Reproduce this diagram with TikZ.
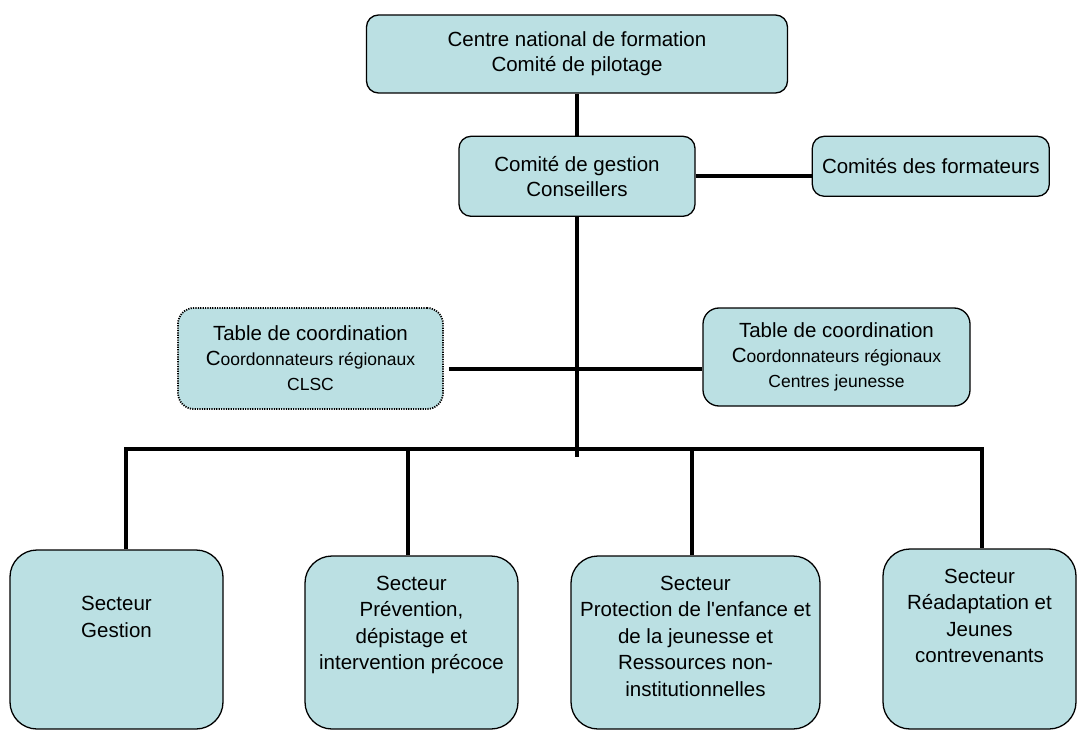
\documentclass[tikz,border=0pt]{standalone}
\usepackage{fontspec}
\setmainfont{Liberation Sans}
\usepackage{xcolor}
\usetikzlibrary{positioning}

\definecolor{boxfill}{RGB}{187,224,227}
\newcommand{\secttext}[3]{\parbox[c][#2][t]{#1}{\centering\rule{0pt}{34pt}#3}}
\newcommand{\tsub}{\fontsize{17.5}{25}\selectfont}
\newcommand{\tbig}{\fontsize{20.5}{25}\selectfont}

\begin{document}
\begin{tikzpicture}[x = 1pt, y = -1pt,
    box/.style    = {draw, line width = 1.3pt, fill = boxfill, rounded corners = 12pt,
                     align = center, font = \fontsize{20.5}{25}\selectfont},
    tbox/.style   = {box, rounded corners = 16pt},
    sector/.style = {box, rounded corners = 27pt, inner sep = 0pt,
                     font = \fontsize{20.5}{26.5}\selectfont},
    link/.style   = {line width = 4pt}]
    \useasboundingbox (0,0) rectangle (1082,730);

    \node[box, minimum width = 421pt, minimum height = 78pt] (cnf) at (577,54)
        {Centre national de formation\\Comité de pilotage};
    \node[box, minimum width = 236pt, minimum height = 80pt, below = 42pt of cnf] (gest)
        {Comité de gestion\\Conseillers};
    \node[box, minimum width = 237pt, minimum height = 60pt, right = 116pt of gest, yshift = 10pt] (form)
        {Comités des formateurs};

    \node[tbox, dash pattern = on 1.2pt off 1.2pt, line width = 1.8pt,
          minimum width = 265pt, minimum height = 101pt] (tabl) at (310.5,358.5)
        {Table de coordination\\{\tsub{\tbig C}oordonnateurs régionaux}\\{\tsub CLSC}};
    \node[tbox, minimum width = 267pt, minimum height = 98pt] (tabr) at (836.5,357)
        {Table de coordination\\{\tsub{\tbig C}oordonnateurs régionaux}\\{\tsub Centres jeunesse}};

    \node[sector] (s1) at (116.5,639.5) {\secttext{213pt}{179pt}{\\Secteur\\Gestion}};
    \node[sector] (s2) at (411.5,642.5) {\secttext{213pt}{173pt}{Secteur\\Prévention,\\dépistage et\\intervention précoce}};
    \node[sector] (s3) at (695.5,642.5) {\secttext{249pt}{173pt}{Secteur\\Protection de l\textquotesingle enfance et\\de la jeunesse et\\Ressources non-\\institutionnelles}};
    \node[sector] (s4) at (979.5,639) {\secttext{193pt}{180pt}{Secteur\\Réadaptation et\\Jeunes\\contrevenants}};

    \coordinate (hub)   at (577,369);
    \coordinate (bus)   at (577,449);
    \coordinate (spine) at (577,457);

    \draw[link] (cnf) -- (gest);
    \draw[link] (gest.east) -- (gest.east -| form.west);
    \draw[link] (gest) -- (spine);
    \draw[link, shorten <= 5pt] (tabl.east |- hub) -- (hub);
    \draw[link] (hub) -- (tabr.west |- hub);
    \draw[link] ([xshift = 9.5pt]s1.north) |- (bus) -| ([xshift = 2.5pt]s4.north);
    \foreach \n in {s2, s3}
        \draw[link] ([xshift = -3.5pt]\n.north) -- ([xshift = -3.5pt]\n.north |- bus);
\end{tikzpicture}
\end{document}
